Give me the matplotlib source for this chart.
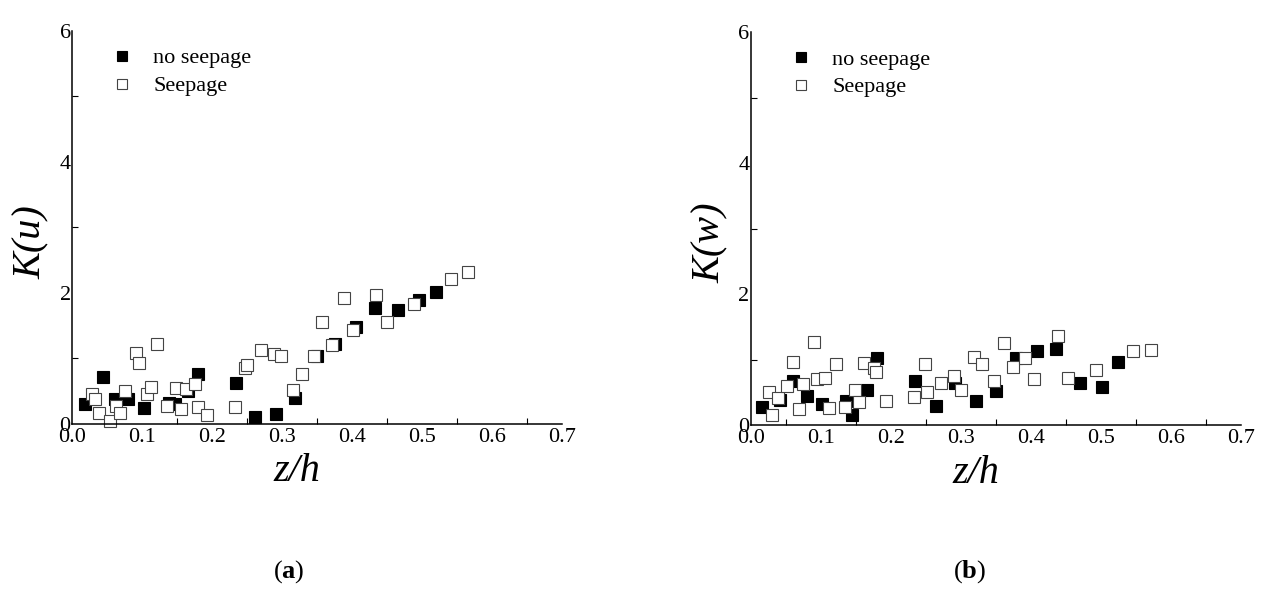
import numpy as np
import matplotlib
matplotlib.use("Agg")
import matplotlib.pyplot as plt
from matplotlib.ticker import MultipleLocator

plt.rcParams['font.family'] = ['Liberation Serif', 'DejaVu Serif']
plt.rcParams['mathtext.fontset'] = 'custom'
plt.rcParams['mathtext.rm'] = 'Liberation Serif'
plt.rcParams['mathtext.bf'] = 'Liberation Serif:bold'

# panel (a): K(u) against z/h
a_no_x = [0.019, 0.044, 0.062, 0.080, 0.103, 0.139, 0.147, 0.166, 0.180, 0.234,
          0.262, 0.291, 0.319, 0.350, 0.376, 0.406, 0.433, 0.466, 0.496, 0.520]
a_no_y = [0.31, 0.72, 0.38, 0.38, 0.25, 0.32, 0.31, 0.51, 0.76, 0.62,
          0.11, 0.15, 0.39, 1.04, 1.22, 1.48, 1.77, 1.74, 1.90, 2.02]
a_sp_x = [0.028, 0.033, 0.039, 0.054, 0.063, 0.069, 0.076, 0.091, 0.095, 0.107,
          0.113, 0.122, 0.135, 0.149, 0.156, 0.163, 0.176, 0.180, 0.193, 0.233,
          0.247, 0.250, 0.270, 0.289, 0.298, 0.316, 0.328, 0.345, 0.357, 0.372,
          0.389, 0.401, 0.434, 0.450, 0.489, 0.541, 0.566]
a_sp_y = [0.45, 0.38, 0.16, 0.05, 0.27, 0.16, 0.51, 1.08, 0.93, 0.46,
          0.57, 1.22, 0.28, 0.545, 0.23, 0.54, 0.61, 0.26, 0.14, 0.26,
          0.85, 0.90, 1.13, 1.07, 1.04, 0.52, 0.76, 1.04, 1.56, 1.21,
          1.93, 1.435, 1.97, 1.55, 1.83, 2.22, 2.32]

# panel (b): K(w) against z/h
b_no_x = [0.016, 0.042, 0.060, 0.080, 0.102, 0.136, 0.145, 0.166, 0.180, 0.235,
          0.264, 0.292, 0.321, 0.350, 0.378, 0.409, 0.436, 0.470, 0.501, 0.525]
b_no_y = [0.28, 0.38, 0.68, 0.44, 0.32, 0.37, 0.15, 0.53, 1.02, 0.68,
          0.29, 0.65, 0.37, 0.52, 1.02, 1.13, 1.16, 0.64, 0.575, 0.96]
b_sp_x = [0.026, 0.030, 0.038, 0.052, 0.060, 0.068, 0.074, 0.090, 0.094, 0.106,
          0.111, 0.121, 0.135, 0.148, 0.155, 0.161, 0.176, 0.179, 0.193, 0.233,
          0.248, 0.251, 0.271, 0.290, 0.300, 0.319, 0.330, 0.347, 0.362, 0.374,
          0.391, 0.404, 0.438, 0.453, 0.493, 0.546, 0.571]
b_sp_y = [0.51, 0.16, 0.41, 0.60, 0.97, 0.24, 0.63, 1.27, 0.71, 0.72,
          0.26, 0.93, 0.27, 0.53, 0.35, 0.95, 0.87, 0.81, 0.37, 0.43,
          0.93, 0.51, 0.64, 0.75, 0.53, 1.04, 0.94, 0.67, 1.25, 0.88,
          1.03, 0.71, 1.36, 0.72, 0.84, 1.13, 1.145]

legend_labels = ["no seepage", "Seepage"]


def draw_panel(ax, no_x, no_y, sp_x, sp_y, ylabel):
    # filled first so the open squares sit on top, as in the original
    ax.plot(no_x, no_y, ls='none', marker='s', ms=8, mfc='black', mec='black',
            mew=0.8, label=legend_labels[0], clip_on=False)
    ax.plot(sp_x, sp_y, ls='none', marker='s', ms=8, mfc='white', mec='#444444',
            mew=0.8, label=legend_labels[1], clip_on=False)
    ax.set_xlim(0, 0.7)
    ax.set_ylim(0, 6)
    for side in ['top', 'right']:
        ax.spines[side].set_visible(False)
    for side in ['left', 'bottom']:
        ax.spines[side].set_linewidth(1.1)
    ax.xaxis.set_major_locator(MultipleLocator(0.1))
    ax.xaxis.set_minor_locator(MultipleLocator(0.05))
    ax.yaxis.set_major_locator(MultipleLocator(2))
    ax.yaxis.set_minor_locator(MultipleLocator(1))
    ax.xaxis.set_major_formatter(matplotlib.ticker.FormatStrFormatter('%.1f'))
    ax.tick_params(which='major', direction='in', length=0, labelsize=16)
    ax.tick_params(which='minor', direction='in', length=4, width=0.8)
    ax.tick_params(axis='x', which='major', pad=3)
    ax.tick_params(axis='y', which='major', pad=1)
    ax.set_xlabel('z/h', fontsize=29, fontstyle='italic')
    ax.set_ylabel(ylabel, fontsize=29, fontstyle='italic')
    ax.xaxis.set_label_coords(0.459, -0.122)
    ax.yaxis.set_label_coords(-0.083, 0.463)
    ax.xaxis.label.set_va('center')
    ax.yaxis.label.set_va('center')
    ax.legend(loc='upper left', bbox_to_anchor=(0.080, 0.957), frameon=False,
              fontsize=16, handlelength=1.0, handletextpad=0.9,
              borderpad=0, borderaxespad=0, labelspacing=0.33, markerscale=0.95)


fig = plt.figure(figsize=(12.66, 5.90), dpi=100)
ax1 = fig.add_axes([0.0569, 0.2814, 0.3870, 0.6661])
ax2 = fig.add_axes([0.5932, 0.2795, 0.3870, 0.6661])

draw_panel(ax1, a_no_x, a_no_y, a_sp_x, a_sp_y, 'K(u)')
draw_panel(ax2, b_no_x, b_no_y, b_sp_x, b_sp_y, 'K(w)')

fig.text(0.2283, 1 - 572 / 590, r'($\mathbf{a}$)', fontsize=19, ha='center', va='center')
fig.text(0.7662, 1 - 572 / 590, r'($\mathbf{b}$)', fontsize=19, ha='center', va='center')

fig.savefig('out.png', dpi=100)
